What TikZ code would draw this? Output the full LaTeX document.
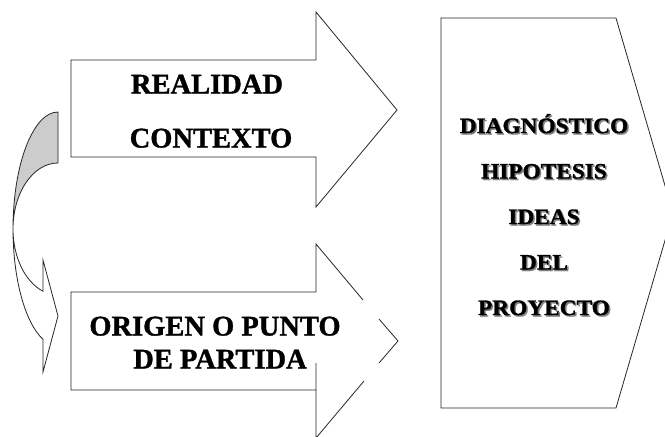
\documentclass[tikz,border=0pt]{standalone}
\usepackage{fontspec}
\usepackage{graphicx}
\setmainfont{Liberation Serif}
\newfontfamily\heavyserif[FakeBold=1.2]{Liberation Serif Bold}
\begin{document}
\begin{tikzpicture}[x=1pt,y=-1pt,
  shapeline/.style={draw=black!85, line width=0.8pt, line join=miter},
  bigtxt/.style={anchor=base, inner sep=0pt, font=\fontsize{28.5}{30}\selectfont\heavyserif},
  rtxt/.style={anchor=base, inner sep=0pt, font=\fontsize{22}{24}\selectfont\heavyserif},
  rshadow/.style={rtxt, text=black!50}]
\useasboundingbox (0,0) rectangle (665,437);
\clip (0,0) rectangle (665,437);
% top arrow
\draw[shapeline] (71,60) -- (316,60) -- (316,12) -- (397,110) -- (316,207) -- (316,157) -- (71,157) -- cycle;
% bottom arrow (outline with gaps near tip as in reference)
\draw[shapeline] (316,363) -- (316,390) -- (71,390) -- (71,292) -- (316,292) -- (316,244) -- (363,300);
\draw[shapeline] (379,319) -- (398,341) -- (379,363);
\draw[shapeline] (364,381) -- (316,438) -- (316,390);
% right pentagon
\draw[shapeline] (441,18) -- (616,18) -- (673,213) -- (616,408) -- (441,408) -- cycle;
% curved arrow: grey back part
\draw[shapeline, fill=black!20] (58,112) arc[start angle=-90, end angle=-180, x radius=45, y radius=117]
  arc[start angle=180, end angle=270, x radius=45, y radius=66] -- cycle;
% curved arrow: white front part with head
\draw[shapeline, fill=white] (13,229) arc[start angle=180, end angle=109.47, x radius=45, y radius=117]
  -- (43,372) -- (58,316) -- (43,260) -- (43,291.2)
  arc[start angle=109.47, end angle=180, x radius=45, y radius=66] -- cycle;
% texts
\node[bigtxt] (t1) at (207,93.5) {REALIDAD};
\node[bigtxt] (t2) at (211,147.5) {CONTEXTO};
\node[bigtxt] (t3) at (215,335.5) {ORIGEN O PUNTO};
\node[bigtxt] (t4) at (220,368.5) {DE PARTIDA};
\foreach \n/\yy/\s in {r1/133/DIAGNÓSTICO, r2/178.5/HIPOTESIS, r3/224/IDEAS, r4/269.5/DEL, r5/315/PROYECTO}{
  \node[rshadow] (\n s) at (545.5,\yy+1.5) {\scalebox{1.06}[1]{\s}};
  \node[rtxt] (\n) at (544,\yy) {\scalebox{1.06}[1]{\s}};
}
\end{tikzpicture}
\end{document}
